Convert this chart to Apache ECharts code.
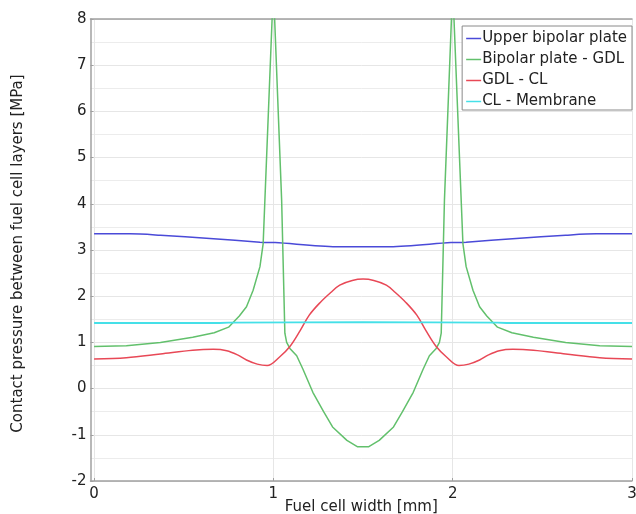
<!DOCTYPE html>
<html>
<head>
<meta charset="utf-8">
<script src="https://cdn.jsdelivr.net/npm/echarts@6/dist/echarts.min.js"></script>
<style>html,body{margin:0;padding:0;background:#fff}#c{width:636px;height:514px}</style>
</head>
<body>
<div id="c"></div>
<script>
// Names / labels
const seriesNames = ['Upper bipolar plate', 'Bipolar plate - GDL', 'GDL - CL', 'CL - Membrane'];
const xTicks = [0, 1, 2, 3];
const xLabel = 'Fuel cell width [mm]';
const yLabel = 'Contact pressure between fuel cell layers [MPa]';

// Upper bipolar plate
const blueX = [0, 0.2, 0.37, 0.646, 0.925, 1.01, 1.35, 1.65, 1.99, 2.075, 2.354, 2.63, 2.8, 3.0];
const blueY = [3.35, 3.35, 3.32, 3.25, 3.17, 3.16, 3.07, 3.07, 3.16, 3.17, 3.25, 3.32, 3.35, 3.35];

// Bipolar plate - GDL
const greenX = [0, 0.18, 0.37, 0.55, 0.67, 0.75, 0.81, 0.85, 0.887, 0.925, 0.943, 1.0, 1.046, 1.064, 1.074, 1.092,
  1.13, 1.165, 1.22, 1.28, 1.33, 1.41, 1.47, 1.53, 1.59, 1.67, 1.72, 1.78, 1.835, 1.87, 1.908, 1.926, 1.936,
  1.954, 2.0, 2.057, 2.075, 2.113, 2.15, 2.19, 2.25, 2.33, 2.45, 2.63, 2.82, 3.0];
const greenY = [0.91, 0.93, 1.0, 1.11, 1.21, 1.33, 1.57, 1.77, 2.13, 2.64, 3.14, 8.7, 4.08, 1.2, 1.0, 0.87,
  0.71, 0.42, -0.08, -0.5, -0.83, -1.12, -1.26, -1.26, -1.12, -0.83, -0.5, -0.08, 0.42, 0.71, 0.87, 1.0, 1.2,
  4.08, 8.7, 3.14, 2.64, 2.13, 1.77, 1.57, 1.33, 1.21, 1.11, 1.0, 0.93, 0.91];

// GDL - CL
const redX = [0, 0.18, 0.37, 0.55, 0.665, 0.74, 0.8, 0.85, 0.91, 0.965, 1.036, 1.092, 1.15, 1.2, 1.26, 1.32, 1.37,
  1.44, 1.5, 1.56, 1.63, 1.68, 1.74, 1.8, 1.85, 1.908, 1.964, 2.035, 2.09, 2.15, 2.2, 2.26, 2.335, 2.45, 2.63, 2.82, 3.0];
const redY = [0.64, 0.67, 0.75, 0.83, 0.85, 0.82, 0.73, 0.62, 0.53, 0.5, 0.69, 0.91, 1.26, 1.59, 1.86, 2.08, 2.24,
  2.34, 2.37, 2.34, 2.24, 2.08, 1.86, 1.59, 1.26, 0.91, 0.69, 0.5, 0.53, 0.62, 0.73, 0.82, 0.85, 0.83, 0.75, 0.67, 0.64];

// CL - Membrane
const cyanX = [0, 0.7, 0.75, 1.5, 2.25, 2.3, 3.0];
const cyanY = [1.42, 1.42, 1.43, 1.44, 1.43, 1.42, 1.42];

const pairs = (xs, ys) => xs.map((x, i) => [x, ys[i]]);
const colors = ['#4a4ad8', '#62c06c', '#e84856', '#45e0e8'];
const font = 'DejaVu Sans';

const chart = echarts.init(document.getElementById('c'), null, {renderer: 'canvas'});
chart.setOption({
  animation: false,
  backgroundColor: '#fff',
  color: colors,
  textStyle: {fontFamily: font},
  grid: {left: 90.5, right: 4, top: 19, bottom: 33, outerBoundsMode: 'none', containLabel: false},
  legend: {
    orient: 'vertical', right: 4, top: 26,
    padding: [5, 5, 1, 4],
    icon: 'path://M0,0L15,0L15,1.5L0,1.5Z',
    itemWidth: 15, itemHeight: 15, itemGap: 6,
    borderColor: '#8a8a8a', borderWidth: 1, backgroundColor: '#fff',
    textStyle: {fontFamily: font, fontSize: 15, lineHeight: 15, color: '#222', padding: [0, 0, 0, -4]},
    data: seriesNames
  },
  xAxis: [{
    type: 'value', min: -0.02, max: 3,
    name: xLabel, nameLocation: 'middle', nameGap: 19, nameMoveOverlap: false,
    nameTextStyle: {fontFamily: font, fontSize: 15, color: '#222'},
    axisLine: {onZero: false, lineStyle: {color: '#a0a0a0', width: 1.5}},
    axisTick: {show: true, inside: true, length: 3, customValues: xTicks, lineStyle: {color: '#a0a0a0'}},
    axisLabel: {customValues: xTicks, fontFamily: font, fontSize: 15, color: '#222', margin: 6},
    splitLine: {show: true, lineStyle: {color: '#e6e6e6', width: 1}}
  }, {
    type: 'value', min: -0.02, max: 3, position: 'top',
    axisLine: {show: true, onZero: false, lineStyle: {color: '#a0a0a0', width: 1.5}},
    axisTick: {show: false}, axisLabel: {show: false}, splitLine: {show: false}
  }],
  yAxis: {
    type: 'value', min: -2, max: 8, interval: 1,
    name: yLabel, nameLocation: 'middle', nameGap: 65, nameMoveOverlap: false,
    nameTextStyle: {fontFamily: font, fontSize: 15, color: '#222', padding: [0, 7, 0, 0]},
    axisLine: {show: true, onZero: false, lineStyle: {color: '#a0a0a0', width: 1.5}},
    axisTick: {show: true, inside: true, length: 3, lineStyle: {color: '#a0a0a0'}},
    axisLabel: {fontFamily: font, fontSize: 15, color: '#222', margin: 4},
    splitLine: {show: true, lineStyle: {color: '#e6e6e6', width: 1}},
    minorTick: {show: false, splitNumber: 2},
    minorSplitLine: {show: true, lineStyle: {color: '#ececec', width: 1}}
  },
  series: [
    {name: seriesNames[0], type: 'line', data: pairs(blueX, blueY), symbol: 'none', smooth: 0.3, lineStyle: {width: 1.5}},
    {name: seriesNames[1], type: 'line', data: pairs(greenX, greenY), symbol: 'none', smooth: false, lineStyle: {width: 1.5}},
    {name: seriesNames[2], type: 'line', data: pairs(redX, redY), symbol: 'none', smooth: 0.35, lineStyle: {width: 1.5}},
    {name: seriesNames[3], type: 'line', data: pairs(cyanX, cyanY), symbol: 'none', smooth: false, lineStyle: {width: 1.8}}
  ]
});
</script>
</body>
</html>
